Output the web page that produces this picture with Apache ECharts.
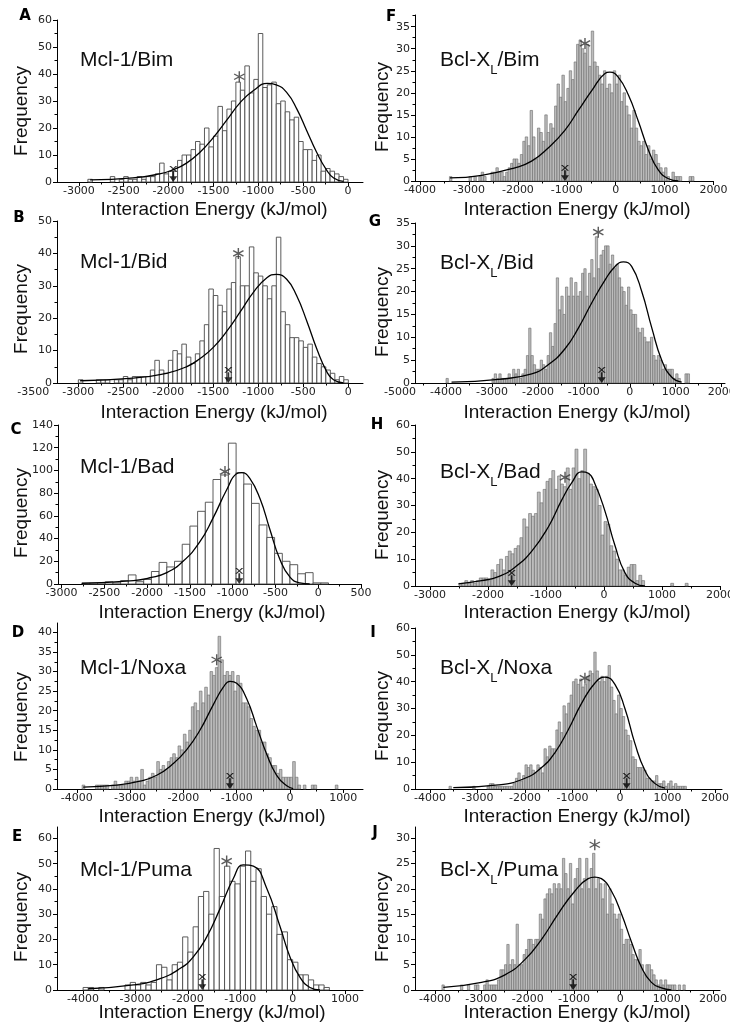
<!DOCTYPE html>
<html>
<head>
<meta charset="utf-8">
<script src="https://cdn.jsdelivr.net/npm/echarts@6/dist/echarts.min.js"></script>
<style>
html, body { margin: 0; padding: 0; background: #fff; }
#main { width: 730px; height: 1027px; }
</style>
</head>
<body>
<div id="main"></div>
<script>
// histogram bins: first bin edge and bin width in kJ/mol, then counts per bin
var startA = -2900, binA = 50;
var countsA = [1,0,0,0,0,2,0,1,2,1,1,2,1,2,2,3,7,3,4,4,8,10,10,12,15,14,20,13,17,28,19,27,30,37,34,43,33,38,55,35,36,37,29,30,26,23,24,15,12,12,8,10,4,5,4,3,2,1];
var startB = -3000, binB = 50;
var countsB = [1,0,0,0,1,1,1,0,1,1,2,1,2,2,2,2,4,7,4,3,7,10,9,12,8,6,9,13,18,29,27,24,22,29,31,39,30,30,42,34,33,30,26,30,45,22,18,14,14,13,11,12,8,6,5,4,3,1,2,1];
var startC = -2940, binC = 90;
var countsC = [0,0,1,1,1,2,1,3,8,2,4,11,19,15,20,35,51,64,72,92,96,124,98,88,71,52,41,27,20,17,9,10,1,1];
var startD = -3900, binD = 50;
var countsD = [1,0,0,0,0,1,1,1,1,1, 0,1,2,1,1,1,2,2,3,2, 3,2,5,1,2,3,4,3,7,5, 6,5,7,8,9,8,11,10,14,12,
  15,21,22,20,25,22,26,24,30,29, 31,39,33,29,30,29,30,25,29,27, 22,22,21,18,16,15,15,12,12,9,
  8,6,6,4,5,3,3,3,3,7, 3,1,0,1,0,0,1,1,0,0, 0,0,0,0,0,1,0];
var startE = -4000, binE = 100;
var countsE = [1,1,0,1,0,0,0,0,2,3, 2,3,2,3,10,9,4,10,11,21, 15,25,37,39,30,56,37,49,43,42,
  49,55,43,48,37,30,33,22,23,12, 11,6,6,4,2,2,1,0];
var startF = -3400, binF = 50;
var countsF = [1,0,0,0,0,0,0,0,1,0, 1,0,1,2,1,0,0,2,2,3, 2,2,1,2,3,4,5,5,4,6, 9,10,8,16,10,5,12,11,9,15,
  11,13,12,17,22,19,24,18,21,25, 23,27,31,32,30,29,31,26,34,27, 26,24,22,25,21,22,20,25,22,24,
  18,20,17,15,12,16,12,9,8,9, 6,8,5,7,6,4,3,2,3,1, 0,2,1,1,1,0,0,0,1,1];
var startG = -4000, binG = 50;
var countsG = [1,0,0,0,0,0,0,0,0,0, 0,0,0,0,0,0,0,0,0,0, 1,2,1,2,1,1,1,2,1,3, 2,3,1,2,3,6,12,6,4,3,
  3,5,4,3,6,11,8,13,23,16, 19,15,21,19,23,19,22,19,20,24, 25,19,24,27,23,32,25,28,29,30,
  30,26,28,25,26,23,21,20,17,21, 16,15,15,12,11,12,10,9,9,10, 6,5,6,5,3,4,3,3,3,1, 2,1,0,0,2,2,0,0];
var startH = -2500, binH = 50;
var countsH = [1,1,2,1,2,1,2,3,3,3, 2,6,5,8,10,6,11,13,12,14, 15,18,25,22,27,26,27,35,31,36,
  39,40,43,36,41,38,37,44,36,44, 51,40,43,51,42,38,37,36,30,19, 24,23,15,13,10,6,6,4,7,8,
  8,2,4,2,0,0,0,0,0,0, 0,0,0,1,0,0,0,0,1,0];
var startI = -3600, binI = 50;
var countsI = [1,0,0,0,0,0,0,0,0,0, 1,0,0,0,0,0,1,2,2,1, 1,1,1,1,1,1,1,2,4,6, 3,5,9,8,9,7,6,9,8,6,
  15,12,16,15,15,22,25,21,31,28, 32,35,40,41,39,41,38,39,42,44, 43,51,44,40,42,40,42,46,38,33,
  28,35,30,27,22,20,18,12,11,8, 8,8,7,4,4,3,3,5,2,2, 3,1,2,3,1,2,1,1,1,1];
var startJ = -3850, binJ = 50;
var countsJ = [1,0,0,0,0,0,0,0,1,0, 0,1,0,0,1,1,0,0,1,2, 1,1,1,1,2,4,4,5,9,5, 6,5,13,5,5,7,8,10,10,9,
  10,10,15,14,18,19,20,19,21,20, 21,20,26,23,20,25,17,22,24,26, 20,22,26,20,24,27,20,22,21,18,
  21,15,20,17,15,14,15,12,9,10, 10,9,7,6,6,8,5,3,5,5, 4,3,2,1,2,1,2,1,1,1, 1,0,1,0,1];

// fitted curves as [energy, frequency]
var curveA = [[-2875,0.8],[-2400,1.5],[-2100,3],[-1950,4.5],[-1800,7],[-1650,11],[-1500,16.5],[-1350,23],[-1200,29.5],[-1050,34],[-900,36.5],[-800,36],[-680,33],[-570,27],[-460,19],[-350,11],[-240,4.5],[-160,1.5],[-50,0.2]];
var curveB = [[-2980,0.7],[-2390,1.5],[-2020,3],[-1800,5],[-1650,7.5],[-1500,11],[-1350,16],[-1200,22],[-1055,28],[-905,32.5],[-800,33.5],[-685,32],[-575,27],[-460,19],[-350,10.5],[-240,3.5],[-165,1],[-55,0]];
var curveC = [[-2765,0.5],[-2160,3],[-1965,5.5],[-1770,10],[-1580,20],[-1385,37],[-1230,58],[-1070,83],[-955,97],[-895,98],[-800,93],[-680,75],[-565,48],[-450,22],[-330,6],[-215,1],[-100,0]];
var curveD = [[-3880,0.5],[-3250,1],[-2815,2],[-2500,3.5],[-2190,6.5],[-1940,10],[-1690,15],[-1440,21.5],[-1250,26],[-1125,27.5],[-1000,27],[-810,23],[-625,16],[-440,9],[-250,3.5],[-60,0.8],[60,0.1]];
var curveE = [[-3900,0.5],[-3040,2],[-2530,4.5],[-2150,8.5],[-1900,13],[-1640,21],[-1390,32],[-1135,44],[-945,49.5],[-750,49],[-500,40.5],[-240,25],[-50,13],[140,5],[330,1],[520,0]];
var curveF = [[-3390,0.7],[-2740,1.3],[-2060,3],[-1720,4.5],[-1380,7.5],[-1040,11.5],[-765,16],[-490,20.5],[-220,24.4],[-120,24.7],[55,23.5],[260,19.5],[465,13.5],[670,7],[870,2.5],[1080,0.5],[1280,0]];
var curveG = [[-3880,0.2],[-2860,0.8],[-2135,2],[-1775,4],[-1410,7.5],[-1120,12],[-830,17.5],[-540,22.5],[-320,25.5],[-140,26.5],[40,25.5],[260,20],[480,12],[695,5],[910,1.3],[1130,0.2]];
var curveH = [[-2510,0.8],[-2110,2],[-1820,3.5],[-1535,7],[-1245,13],[-960,22],[-730,32],[-555,38.5],[-385,42.5],[-270,42],[-155,38],[15,28],[190,15],[360,5],[535,1],[705,0]];
var curveI = [[-3510,0.5],[-2560,1.5],[-2000,4],[-1650,8],[-1370,13.5],[-1090,22],[-805,32],[-525,39.5],[-315,41.7],[-105,39],[105,30],[315,17],[525,7],[740,2],[950,0.3]];
var curveJ = [[-3820,0.5],[-2995,1.5],[-2490,3],[-2060,6],[-1700,10],[-1345,15],[-985,19.5],[-695,22],[-550,22.3],[-410,22],[-190,19.5],[25,15],[240,9.5],[455,4.5],[670,1.5],[885,0.4],[1100,0]];

// asterisk marks [energy, frequency] and arrow marks (energy)
var starA = [-1212, 39], arrowA = -1948;
var starB = [-1222, 40], arrowB = -1333;
var starC = [-1090, 99], arrowC = -923;
var starD = [-1375, 33], arrowD = -1126;
var starE = [-1260, 51], arrowE = -1725;
var starF = [-628, 31.2], arrowF = -1037;
var starG = [-686, 33], arrowG = -612;
var starH = [-672, 40.5], arrowH = -1592;
var starI = [-737, 41.3], arrowI = 141;
var starJ = [-552, 28.7], arrowJ = -1019;

// tick labels
var xTicksA = [-3000,-2500,-2000,-1500,-1000,-500,0];
var yTicksA = [0,10,20,30,40,50,60];
var xTicksB = [-3500,-3000,-2500,-2000,-1500,-1000,-500,0];
var yTicksB = [0,10,20,30,40,50];
var xTicksC = [-3000,-2500,-2000,-1500,-1000,-500,0,500];
var yTicksC = [0,20,40,60,80,100,120,140];
var xTicksD = [-4000,-3000,-2000,-1000,0,1000];
var yTicksD = [0,5,10,15,20,25,30,35,40];
var xTicksE = [-4000,-3000,-2000,-1000,0,1000];
var yTicksE = [0,10,20,30,40,50,60];
var xTicksF = [-4000,-3000,-2000,-1000,0,1000,2000];
var yTicksF = [0,5,10,15,20,25,30,35];
var xTicksG = [-5000,-4000,-3000,-2000,-1000,0,1000,2000];
var yTicksG = [0,5,10,15,20,25,30,35];
var xTicksH = [-3000,-2000,-1000,0,1000,2000];
var yTicksH = [0,10,20,30,40,50,60];
var xTicksI = [-4000,-3000,-2000,-1000,0,1000,2000];
var yTicksI = [0,10,20,30,40,50,60];
var xTicksJ = [-4000,-3000,-2000,-1000,0,1000,2000];
var yTicksJ = [0,5,10,15,20,25,30];

var panels = [
  {tag:'A', name:'Mcl-1/Bim', start:startA, bin:binA, counts:countsA, curve:curveA, star:starA, arrow:arrowA, xt:xTicksA, yt:yTicksA, gray:false,
   box:[57,20,306,162], xr:[-3244,167], yMax:60, tagAt:[25,16], nameAt:[80,60], freqAt:[22,111], titleAt:[214,210]},
  {tag:'B', name:'Mcl-1/Bid', start:startB, bin:binB, counts:countsB, curve:curveB, star:starB, arrow:arrowB, xt:xTicksB, yt:yTicksB, gray:false,
   box:[57,221,306,162], xr:[-3237,163], yMax:50, tagAt:[19,218], nameAt:[80,262], freqAt:[22,309], titleAt:[214,413]},
  {tag:'C', name:'Mcl-1/Bad', start:startC, bin:binC, counts:countsC, curve:curveC, star:starC, arrow:arrowC, xt:xTicksC, yt:yTicksC, gray:false,
   box:[58,425,303,159], xr:[-3042,500], yMax:140, tagAt:[16,430], nameAt:[80,467], freqAt:[22,513], titleAt:[212,613]},
  {tag:'D', name:'Mcl-1/Noxa', start:startD, bin:binD, counts:countsD, curve:curveD, star:starD, arrow:arrowD, xt:xTicksD, yt:yTicksD, gray:true,
   box:[57,623,306,166], xr:[-4371,1370], yMax:42.4, tagAt:[18,633], nameAt:[80,668], freqAt:[22,717], titleAt:[212,817]},
  {tag:'E', name:'Mcl-1/Puma', start:startE, bin:binE, counts:countsE, curve:curveE, star:starE, arrow:arrowE, xt:xTicksE, yt:yTicksE, gray:false,
   box:[57,827,306,163], xr:[-4498,1342], yMax:64.5, tagAt:[17,837], nameAt:[80,870], freqAt:[22,917], titleAt:[212,1013]},
  {tag:'F', name:'/Bim', start:startF, bin:binF, counts:countsF, curve:curveF, star:starF, arrow:arrowF, xt:xTicksF, yt:yTicksF, gray:true,
   box:[415,15,298.5,166], xr:[-4104,2000], yMax:37.65, tagAt:[391,17], nameAt:[440,60], freqAt:[383,107], titleAt:[577,210]},
  {tag:'G', name:'/Bid', start:startG, bin:binG, counts:countsG, curve:curveG, star:starG, arrow:arrowG, xt:xTicksG, yt:yTicksG, gray:true,
   box:[415,223,310,160], xr:[-4675,2072], yMax:35, tagAt:[375,222], nameAt:[440,263], freqAt:[383,312], titleAt:[577,413]},
  {tag:'H', name:'/Bad', start:startH, bin:binH, counts:countsH, curve:curveH, star:starH, arrow:arrowH, xt:xTicksH, yt:yTicksH, gray:true,
   box:[415,425,305,161], xr:[-3259,2000], yMax:60, tagAt:[377,425], nameAt:[440,472], freqAt:[383,515], titleAt:[577,613]},
  {tag:'I', name:'/Noxa', start:startI, bin:binI, counts:countsI, curve:curveI, star:starI, arrow:arrowI, xt:xTicksI, yt:yTicksI, gray:true,
   box:[415,628,307,161], xr:[-4316,2150], yMax:60, tagAt:[373,633], nameAt:[440,668], freqAt:[383,716], titleAt:[577,817]},
  {tag:'J', name:'/Puma', start:startJ, bin:binJ, counts:countsJ, curve:curveJ, star:starJ, arrow:arrowJ, xt:xTicksJ, yt:yTicksJ, gray:true,
   box:[415,827,305,163], xr:[-4431,2150], yMax:32.2, tagAt:[375,833], nameAt:[440,870], freqAt:[383,917], titleAt:[577,1013]}
];

var STAR = 'path://M4.4,0L5.6,0L5.6,10L4.4,10Z M0.97,1.98L9.63,6.98L9.03,8.02L0.37,3.02Z M9.63,3.02L0.97,8.02L0.37,6.98L9.03,1.98Z';
var ARROW = 'path://M1.5,0L3,0L8.5,5.5L7,5.5Z M7,0L8.5,0L3,5.5L1.5,5.5Z M4.2,5L5.8,5L5.8,10L4.2,10Z M1.5,9.5L8.5,9.5L5,15Z';
var labelFont = 'DejaVu Sans';

function inRange(list, lo, hi) {
  return list.filter(function (v) { return v >= lo && v <= hi; });
}

function minorOf(majors, lo, hi) {
  var s = majors[1] - majors[0], out = [];
  var v = majors[0] - s / 2;
  while (v - s >= lo) v -= s;
  for (; v <= hi; v += s) if (v >= lo) out.push(v);
  return out;
}

function barItem(fill, stroke, lw) {
  return function (params, api) {
    var h = api.value(2);
    if (!h) return null;
    var a = api.coord([api.value(0), h]);
    var b = api.coord([api.value(1), 0]);
    return {
      type: 'rect',
      shape: { x: a[0], y: a[1], width: b[0] - a[0], height: b[1] - a[1] },
      style: { fill: fill, stroke: stroke, lineWidth: lw }
    };
  };
}

var grids = [], xAxes = [], yAxes = [], series = [];
panels.forEach(function (p, k) {
  grids.push({ left: p.box[0], top: p.box[1], width: p.box[2], height: p.box[3], containLabel: false, outerBoundsMode: 'none' });
  var xt = inRange(p.xt, p.xr[0], p.xr[1]);
  xAxes.push({
    gridIndex: k, type: 'value', position: 'bottom', min: p.xr[0], max: p.xr[1],
    axisLine: { show: true, onZero: false, lineStyle: { color: '#000', width: 1 } },
    axisTick: { show: true, customValues: xt, length: 4, lineStyle: { color: '#000', width: 1 } },
    axisLabel: { customValues: xt, fontFamily: labelFont, fontSize: 11, color: '#222', margin: 4,
      formatter: function (v) { return String(v); } },
    splitLine: { show: false }
  });
  xAxes.push({
    gridIndex: k, type: 'value', position: 'bottom', min: p.xr[0], max: p.xr[1],
    axisLine: { show: false, onZero: false },
    axisTick: { show: true, customValues: minorOf(p.xt, p.xr[0], p.xr[1]), length: 2.5, lineStyle: { color: '#000', width: 1 } },
    axisLabel: { show: false }, splitLine: { show: false }
  });
  yAxes.push({
    gridIndex: k, type: 'value', position: 'left', min: 0, max: p.yMax,
    axisLine: { show: true, onZero: false, lineStyle: { color: '#000', width: 1 } },
    axisTick: { show: true, customValues: p.yt, length: 4, lineStyle: { color: '#000', width: 1 } },
    axisLabel: { customValues: p.yt, fontFamily: labelFont, fontSize: 11, color: '#222', margin: 5,
      formatter: function (v) { return String(v); } },
    splitLine: { show: false }
  });
  yAxes.push({
    gridIndex: k, type: 'value', position: 'left', min: 0, max: p.yMax,
    axisLine: { show: false, onZero: false },
    axisTick: { show: true, customValues: minorOf(p.yt, 0, p.yMax), length: 2.5, lineStyle: { color: '#000', width: 1 } },
    axisLabel: { show: false }, splitLine: { show: false }
  });

  var bars = p.counts.map(function (c, i) {
    return [p.start + i * p.bin, p.start + (i + 1) * p.bin, c];
  });
  series.push({
    type: 'custom', xAxisIndex: 2 * k, yAxisIndex: 2 * k, data: bars,
    encode: { x: [0, 1], y: 2 },
    renderItem: p.gray ? barItem('#bdbdbd', '#6a6a6a', 0.6) : barItem('#ffffff', '#4a4a4a', 0.9),
    silent: true, z: 2
  });
  series.push({
    type: 'line', xAxisIndex: 2 * k, yAxisIndex: 2 * k, data: p.curve,
    symbol: 'none', smooth: 0.5,
    lineStyle: { color: '#000', width: 1.3 }, silent: true, z: 3
  });
  series.push({
    type: 'scatter', xAxisIndex: 2 * k, yAxisIndex: 2 * k, data: [p.star],
    symbol: STAR, symbolSize: 11, itemStyle: { color: '#333' }, silent: true, z: 4
  });
  series.push({
    type: 'scatter', xAxisIndex: 2 * k, yAxisIndex: 2 * k, data: [[p.arrow, 0]],
    symbol: ARROW, symbolSize: [8, 16], symbolKeepAspect: false, symbolOffset: [0, -8],
    itemStyle: { color: '#000' }, silent: true, z: 4
  });
});

var chart = echarts.init(document.getElementById('main'), null, { renderer: 'canvas' });
chart.setOption({
  animation: false,
  backgroundColor: '#fff',
  grid: grids,
  xAxis: xAxes,
  yAxis: yAxes,
  series: series
});

// texts: panel letters, titles, axis names, and labels left of the axis start
var texts = [];
panels.forEach(function (p, k) {
  texts.push({ type: 'text', x: p.tagAt[0], y: p.tagAt[1],
    style: { text: p.tag, font: 'bold 15px "DejaVu Sans"', fill: '#000', align: 'center', verticalAlign: 'middle', textAlign: 'center', textVerticalAlign: 'middle' } });
  if (p.gray && p.tag !== 'D') {
    texts.push({ type: 'text', x: p.nameAt[0], y: p.nameAt[1],
      style: { text: '{a|Bcl-X}{s|L}{a|' + p.name + '}', align: 'left', verticalAlign: 'middle', textAlign: 'left', textVerticalAlign: 'middle',
        rich: { a: { fontSize: 21, fontFamily: 'Liberation Sans', lineHeight: 34, fill: '#111' },
                s: { fontSize: 13, fontFamily: 'Liberation Sans', lineHeight: 13, verticalAlign: 'bottom', fill: '#111' } } } });
  } else {
    texts.push({ type: 'text', x: p.nameAt[0], y: p.nameAt[1],
      style: { text: p.name, font: '21px "Liberation Sans"', fill: '#111', align: 'left', verticalAlign: 'middle', textAlign: 'left', textVerticalAlign: 'middle' } });
  }
  texts.push({ type: 'text', x: p.freqAt[0], y: p.freqAt[1], rotation: Math.PI / 2,
    style: { text: 'Frequency', font: '19px "Liberation Sans"', fill: '#111', align: 'center', verticalAlign: 'middle', textAlign: 'center', textVerticalAlign: 'middle' } });
  texts.push({ type: 'text', x: p.titleAt[0], y: p.titleAt[1],
    style: { text: 'Interaction Energy (kJ/mol)', font: '19px "Liberation Sans"', fill: '#111', align: 'center', verticalAlign: 'middle', textAlign: 'center', textVerticalAlign: 'middle' } });
  p.xt.forEach(function (v) {
    if (v >= p.xr[0] && v <= p.xr[1]) return;
    var px = chart.convertToPixel({ xAxisIndex: 2 * k }, v);
    var py = chart.convertToPixel({ yAxisIndex: 2 * k }, 0);
    texts.push({ type: 'text', x: px, y: py + 4,
      style: { text: String(v), font: '11px "' + labelFont + '"', fill: '#222', align: 'center', verticalAlign: 'top', textAlign: 'center', textVerticalAlign: 'top' } });
  });
});
chart.setOption({ graphic: texts });
</script>
</body>
</html>
